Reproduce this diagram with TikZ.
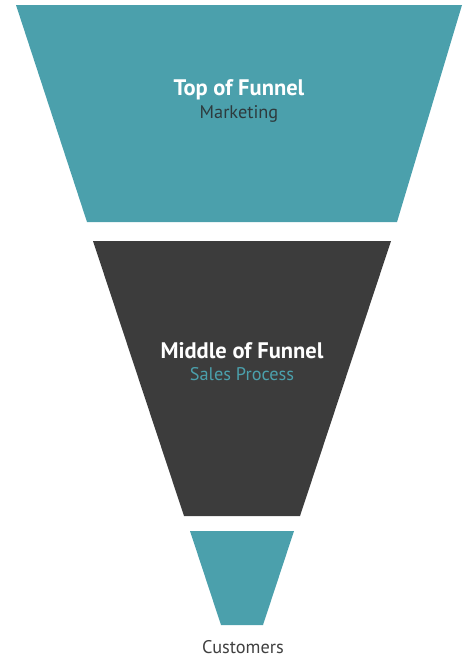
\documentclass[tikz,border=0pt]{standalone}
\usepackage{fontspec}
\setmainfont{PT Sans}
\definecolor{teal1}{HTML}{4BA0AC}
\definecolor{dark1}{HTML}{3C3C3C}
\definecolor{txtdark}{HTML}{2E3A3D}
\definecolor{cust}{HTML}{404040}
\begin{document}
\begin{tikzpicture}[x=1pt,y=-1pt,
  title/.style={font=\bfseries\fontsize{22.5}{26}\selectfont, text=white, inner sep=0pt},
  sub/.style={font=\fontsize{18.3}{22}\selectfont, inner sep=0pt}]
\useasboundingbox (0,0) rectangle (463,657);
\fill[teal1] (16,5) -- (462,5) -- (397,222) -- (87,222) -- cycle;
\fill[dark1] (93,241) -- (391,241) -- (300,516) -- (184,516) -- cycle;
\fill[teal1] (190,531) -- (294,531) -- (263,625) -- (221,625) -- cycle;
\node[title] (t1) at (239,90) {Top of Funnel};
\node[sub, text=txtdark] (s1) at (239,114) {Marketing};
\node[title] (t2) at (242,351) {Middle of Funnel};
\node[sub, text=teal1] (s2) at (242,374) {Sales Process};
\node[sub, text=cust] (c) at (243,647) {Customers};
\end{tikzpicture}
\end{document}
